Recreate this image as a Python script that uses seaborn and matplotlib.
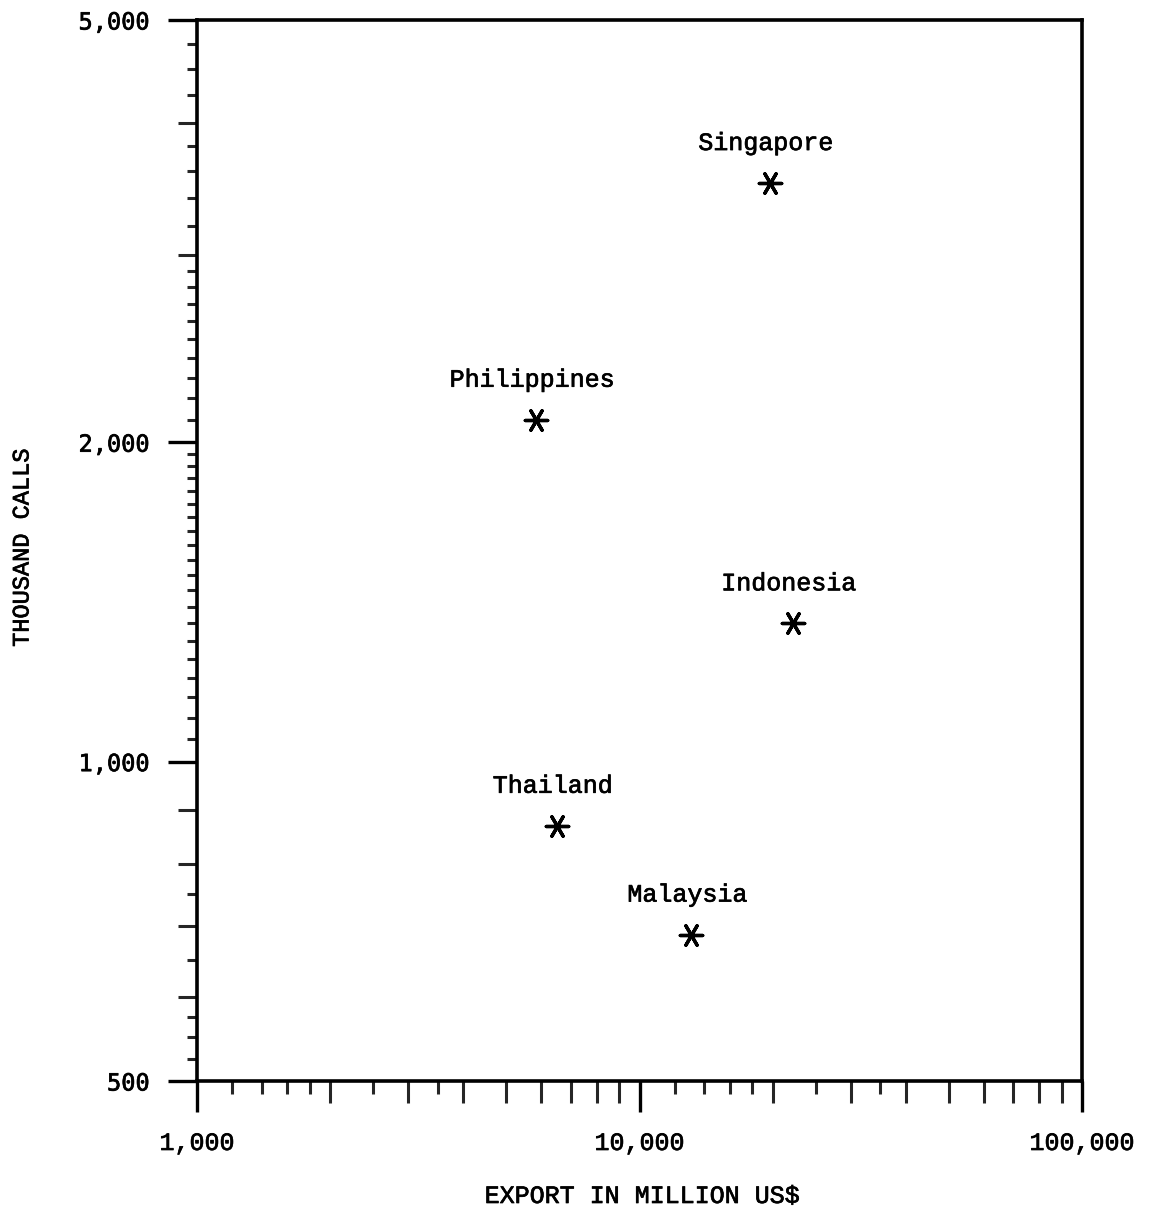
import matplotlib
matplotlib.use("Agg")
import matplotlib.pyplot as plt
import matplotlib.ticker as mticker
import matplotlib.patheffects as pe
from matplotlib.text import Text
import pandas as pd
import seaborn as sns

# Exports (million US$) against international calls (thousands)
countries = ["Singapore", "Philippines", "Indonesia", "Thailand", "Malaysia"]
export_musd = [19700, 5840, 22200, 6500, 13100]
thousand_calls = [3510, 2100, 1350, 870, 687]

# Log-paper tick marks
x_major = [1000, 10000, 100000]
x_major_labels = ["1,000", "10,000", "100,000"]
x_medium = [2000, 3000, 4000, 5000, 6000, 7000, 8000, 9000,
            20000, 30000, 40000, 50000, 60000, 70000, 80000, 90000]
x_short = [1200, 1400, 1600, 1800, 2500, 3500,
           12000, 14000, 16000, 18000, 25000, 35000]

y_major = [500, 1000, 2000, 5000]
y_major_labels = ["500", "1,000", "2,000", "5,000"]
y_medium = [600, 700, 800, 900, 3000, 4000]
y_short = ([525, 550, 575, 650, 750]
           + list(range(1050, 2000, 50))
           + list(range(2100, 3000, 100))
           + [3200, 3400, 3600, 3800, 4250, 4500, 4750])

sns.set_style("white")
plt.rcParams["font.family"] = ["Liberation Mono", "DejaVu Sans Mono"]

W, H = 1162, 1213
fig = plt.figure(figsize=(W / 100, H / 100), dpi=100)
left, right, top, bottom = 197, 1082, 20, 1081
ax = fig.add_axes([left / W, 1 - bottom / H, (right - left) / W, (bottom - top) / H])

df = pd.DataFrame({"country": countries, "export": export_musd, "calls": thousand_calls})
sns.scatterplot(data=df, x="export", y="calls", marker=(6, 2, 90), s=260,
                color="black", linewidth=2.4, legend=False, ax=ax, zorder=3)

ax.set_xscale("log")
ax.set_yscale("log")
ax.set_xlim(1000, 100000)
ax.set_ylim(500, 5000)

for name, xv, yv in zip(df["country"], df["export"], df["calls"]):
    ax.annotate(name, (xv, yv), xytext=(-4, 40), textcoords="offset pixels",
                ha="center", va="center", fontsize=18, color="black",
                family="Liberation Mono")

# Main ticks: decades labelled, whole-number steps as medium marks
ax.xaxis.set_major_locator(mticker.FixedLocator(x_major))
ax.xaxis.set_major_formatter(mticker.FixedFormatter(x_major_labels))
ax.xaxis.set_minor_locator(mticker.FixedLocator(x_medium))
ax.xaxis.set_minor_formatter(mticker.NullFormatter())
ax.yaxis.set_major_locator(mticker.FixedLocator(y_major))
ax.yaxis.set_major_formatter(mticker.FixedFormatter(y_major_labels))
ax.yaxis.set_minor_locator(mticker.FixedLocator(y_medium))
ax.yaxis.set_minor_formatter(mticker.NullFormatter())

ax.tick_params(axis="x", which="major", direction="out", length=22, width=2.4,
               pad=14, labelsize=18, colors="black", bottom=True, top=False)
ax.tick_params(axis="x", which="minor", direction="out", length=16, width=2.2,
               bottom=True, top=False)
ax.tick_params(axis="y", which="major", direction="out", length=21, width=2.4,
               pad=13, labelsize=17, colors="black", left=True, right=False)
ax.tick_params(axis="y", which="minor", direction="out", length=14, width=2.2,
               left=True, right=False)
for lab in ax.get_yticklabels():
    lab.set_family("DejaVu Sans Mono")

# Short in-between marks on a secondary axis sharing the same scale
sec_x = ax.secondary_xaxis(0)
sec_x.xaxis.set_major_locator(mticker.FixedLocator(x_short))
sec_x.xaxis.set_minor_locator(mticker.NullLocator())
sec_x.xaxis.set_major_formatter(mticker.NullFormatter())
sec_x.tick_params(direction="out", length=9.5, width=2.2)
sec_y = ax.secondary_yaxis(0)
sec_y.yaxis.set_major_locator(mticker.FixedLocator(y_short))
sec_y.yaxis.set_minor_locator(mticker.NullLocator())
sec_y.yaxis.set_major_formatter(mticker.NullFormatter())
sec_y.tick_params(direction="out", length=7.5, width=2.2)
for sec in (sec_x, sec_y):
    for sp in sec.spines.values():
        sp.set_visible(False)

for sp in ax.spines.values():
    sp.set_visible(True)
    sp.set_color("black")
    sp.set_linewidth(2.6)

ax.set_xlabel("EXPORT IN MILLION US$", fontsize=18, va="center", color="black")
ax.xaxis.set_label_coords(0.503, (bottom - 1196) / (bottom - top))
ax.set_ylabel("THOUSAND CALLS", fontsize=17, va="center", color="black")
ax.yaxis.set_label_coords((22 - left) / (right - left), (bottom - 548) / (bottom - top))

# Slightly heavier typewriter-style ink on all lettering
for t in fig.findobj(Text):
    if t.get_text():
        t.set_path_effects([pe.withStroke(linewidth=0.5, foreground="black")])

fig.savefig("out.png", dpi=100, facecolor="white")
